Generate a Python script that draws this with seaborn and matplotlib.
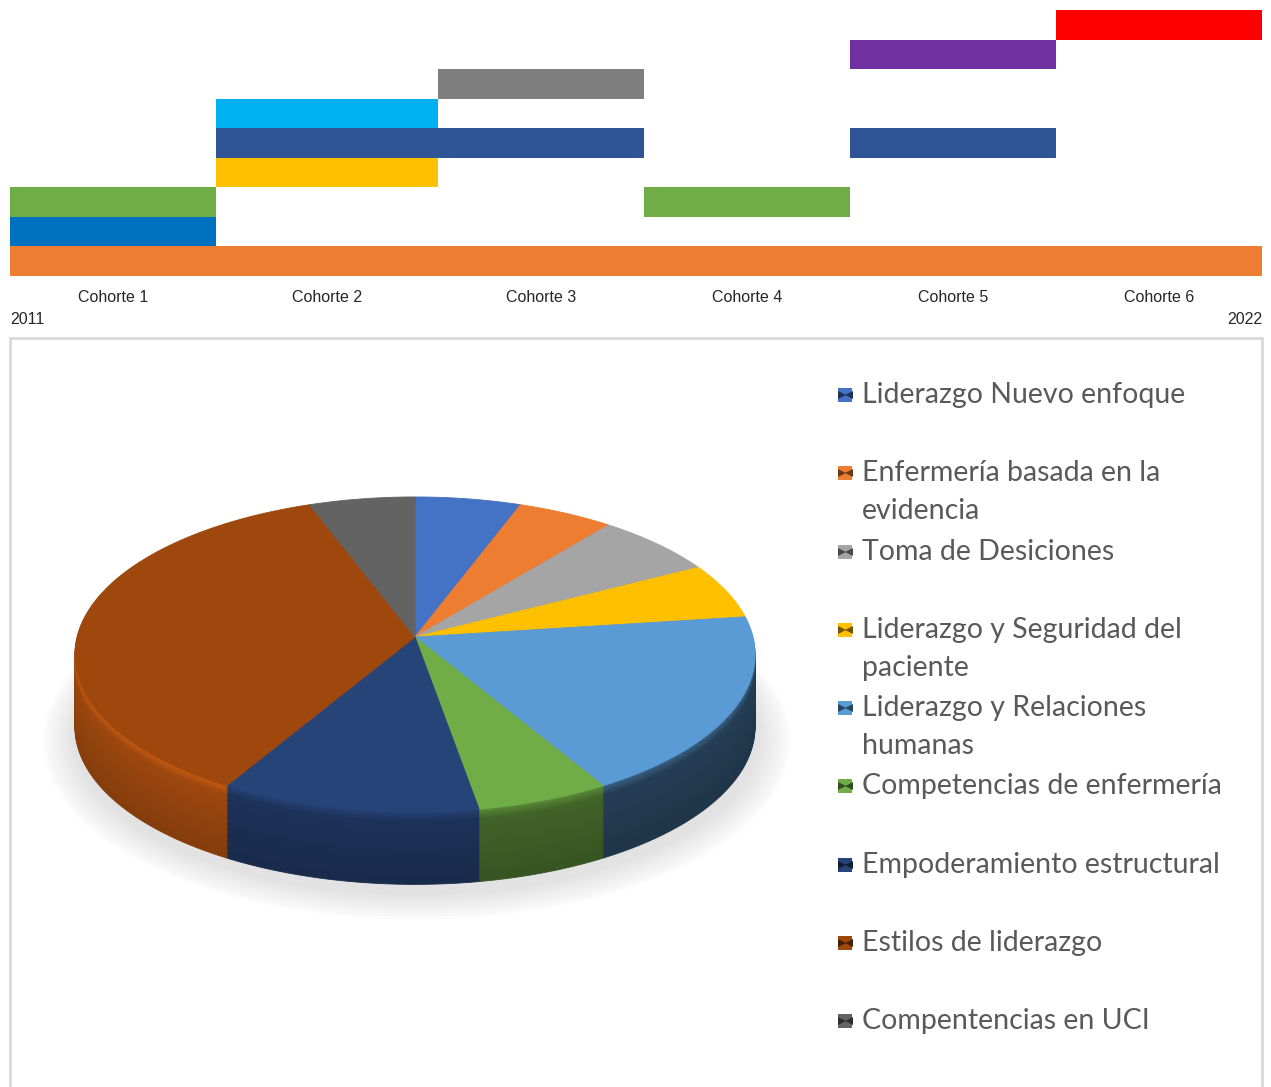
import numpy as np
import matplotlib
matplotlib.use("Agg")
import matplotlib.pyplot as plt
import seaborn as sns
from matplotlib.patches import Rectangle, Ellipse
from matplotlib.colors import to_rgb
from matplotlib.transforms import Transform, Affine2D
from matplotlib.path import Path

# ---------------- Gantt (cohorts) data ----------------
cohorts = ["Cohorte 1", "Cohorte 2", "Cohorte 3", "Cohorte 4", "Cohorte 5", "Cohorte 6"]
cohort_widths = [1.0, 1.08, 1.0, 1.0, 1.0, 1.0]
year_start = "2011"
year_end = "2022"
seg_row = [0, 1, 2, 2, 3, 4, 4, 5, 6, 7, 8]
seg_first = [1, 1, 1, 4, 2, 2, 5, 2, 3, 5, 6]
seg_last = [6, 1, 1, 4, 2, 3, 5, 2, 3, 5, 6]
seg_color = ["#ED7D31", "#0070C0", "#70AD47", "#70AD47", "#FFC000", "#2F5597",
             "#2F5597", "#00B0F0", "#7F7F7F", "#7030A0", "#FF0000"]

# ---------------- Pie data (share, %) ----------------
topics = ["Liderazgo Nuevo enfoque", "Enfermería basada en la\nevidencia",
          "Toma de Desiciones", "Liderazgo y Seguridad del\npaciente",
          "Liderazgo y Relaciones\nhumanas", "Competencias de enfermería",
          "Empoderamiento estructural", "Estilos de liderazgo",
          "Compentencias en UCI"]
topic_share = [5.6, 5.1, 6.5, 5.7, 18.7, 5.7, 11.1, 36.0, 5.6]
topic_colors = ["#4472C4", "#ED7D31", "#A5A5A5", "#FFC000", "#5B9BD5",
                "#70AD47", "#264478", "#9E480E", "#636363"]

sns.set_theme(style="white")
plt.rcParams["font.family"] = ["Liberation Sans", "DejaVu Sans"]

W, H = 1271, 1087
fig = plt.figure(figsize=(W / 100, H / 100), dpi=100)
fig.patch.set_facecolor("white")


def fx(px):
    return px / W


def fy(py):
    return 1 - py / H


class Perspective(Transform):
    """Simple projective tilt: far side (y>0) shrinks."""
    input_dims = 2
    output_dims = 2
    is_separable = False
    has_inverse = False

    def __init__(self, k):
        super().__init__()
        self.k = k

    def transform_non_affine(self, values):
        v = np.asarray(values, dtype=float)
        den = 1.0 + self.k * v[:, 1:2]
        return v / den

    def transform_path_non_affine(self, path):
        t = np.linspace(0, 1, 24)
        pts = []
        for seg, code in path.iter_bezier():
            if code == Path.MOVETO:
                pts.append(np.atleast_2d(seg.control_points[0]))
            else:
                pts.append(np.atleast_2d(seg(t)))
        verts = np.vstack(pts)
        return Path(self.transform_non_affine(verts), closed=True)


# ---------------- Gantt axes ----------------
axg = fig.add_axes([fx(10), fy(276), fx(1252), (276 - 10) / H])
edges = np.concatenate([[0.0], np.cumsum(cohort_widths)])
for r, a, b, c in zip(seg_row, seg_first, seg_last, seg_color):
    axg.barh(r, edges[b] - edges[a - 1], left=edges[a - 1], height=1.0,
             color=c, linewidth=0)
axg.set_xlim(0, edges[-1])
axg.set_ylim(-0.5, 8.5)
centers = (edges[:-1] + edges[1:]) / 2
axg.set_xticks(centers)
axg.set_xticklabels(cohorts, fontsize=11.5, color="#262626")
axg.tick_params(axis="x", length=0, pad=10)
axg.set_yticks([])
for s in axg.spines.values():
    s.set_visible(False)
for lab, xv, ha in [(year_start, 0, "left"), (year_end, edges[-1], "right")]:
    axg.annotate(lab, xy=(xv, 0), xycoords=("data", "axes fraction"),
                 xytext=(0, -31.5), textcoords="offset points", ha=ha, va="center",
                 fontsize=11.5, color="#262626")

# ---------------- Panel frame ----------------
fig.add_artist(Rectangle((fx(10), -0.02), fx(1252), fy(338) + 0.02,
                         transform=fig.transFigure, fill=False,
                         edgecolor="#D9D9D9", linewidth=2))

# ---------------- 3D pie ----------------
ax_l, ax_r = -1.15, 1.15
y_top, y_bot = 1.0, -1.85
px_x, px_y = 338.0, 155.6
axp = fig.add_axes([fx(415 + ax_l * px_x), fy(637 - y_bot * px_y),
                    fx((ax_r - ax_l) * px_x), (y_top - y_bot) * px_y / H])
persp = Perspective(0.111)
thick = 0.465

total = float(sum(topic_share))
cum = np.cumsum([0] + topic_share) / total * 360.0
mids = (cum[:-1] + cum[1:]) / 2  # clockwise from top
wedge_light = [0.65 - 0.3 * np.sin(np.radians(m)) for m in mids]

# soft shadow under the pie
for k in range(9):
    e = Ellipse((0.0, 0.0), 2.02 + 0.022 * k, 2.02 + 0.03 * k,
                facecolor="#8c8c8c", edgecolor="none", alpha=0.026, zorder=0)
    axp.add_patch(e)
    e.set_transform(persp + Affine2D().translate(0.005, -thick - 0.06) + axp.transData)
    e.set_clip_on(False)

n_layers = 60
for k in range(n_layers, 0, -1):
    t = k / n_layers
    d = thick * t
    cols = []
    for c, fl in zip(topic_colors, wedge_light):
        m = fl * (1.07 - 0.18 * t)
        if t < 0.14:
            m += 0.22 * (1 - t / 0.14)
        cols.append(np.clip(np.array(to_rgb(c)) * m, 0, 1))
    w, _ = axp.pie(topic_share, colors=cols, startangle=90, counterclock=False,
                   radius=1.0, wedgeprops=dict(linewidth=0.6))
    tr = persp + Affine2D().translate(0, -d) + axp.transData
    for p, cc in zip(w, cols):
        p.set_edgecolor(cc)
        p.set_transform(tr)
        p.set_clip_on(False)

wt, _ = axp.pie(topic_share, colors=topic_colors, startangle=90, counterclock=False,
                radius=1.0, wedgeprops=dict(linewidth=0.6))
for p, cc in zip(wt, topic_colors):
    p.set_edgecolor(cc)
    p.set_transform(persp + axp.transData)
    p.set_clip_on(False)

axp.set_aspect("auto")
axp.set_xlim(ax_l, ax_r)
axp.set_ylim(y_bot, y_top)
axp.axis("off")

# ---------------- Legend ----------------
axl = fig.add_axes([0, 0, 1, 1], facecolor="none")
axl.set_xlim(0, W)
axl.set_ylim(H, 0)
axl.axis("off")
y0, step, line_h = 395, 78.25, 38
for i, (lab, c) in enumerate(zip(topics, topic_colors)):
    y = y0 + i * step
    axl.plot([845], [y], marker="s", markersize=10, color=c, markeredgewidth=0)
    dark = np.array(to_rgb(c)) * 0.45
    axl.plot([841.5], [y], marker=">", markersize=5.5, color=dark, markeredgewidth=0)
    axl.plot([848.5], [y], marker="<", markersize=5.5, color=dark, markeredgewidth=0)
    for j, line in enumerate(lab.split("\n")):
        axl.text(862, y + j * line_h, line, ha="left", va="center",
                 fontsize=20.5, color="#595959", family=["Lato", "DejaVu Sans"])

fig.savefig("out.png", dpi=100, facecolor="white")
